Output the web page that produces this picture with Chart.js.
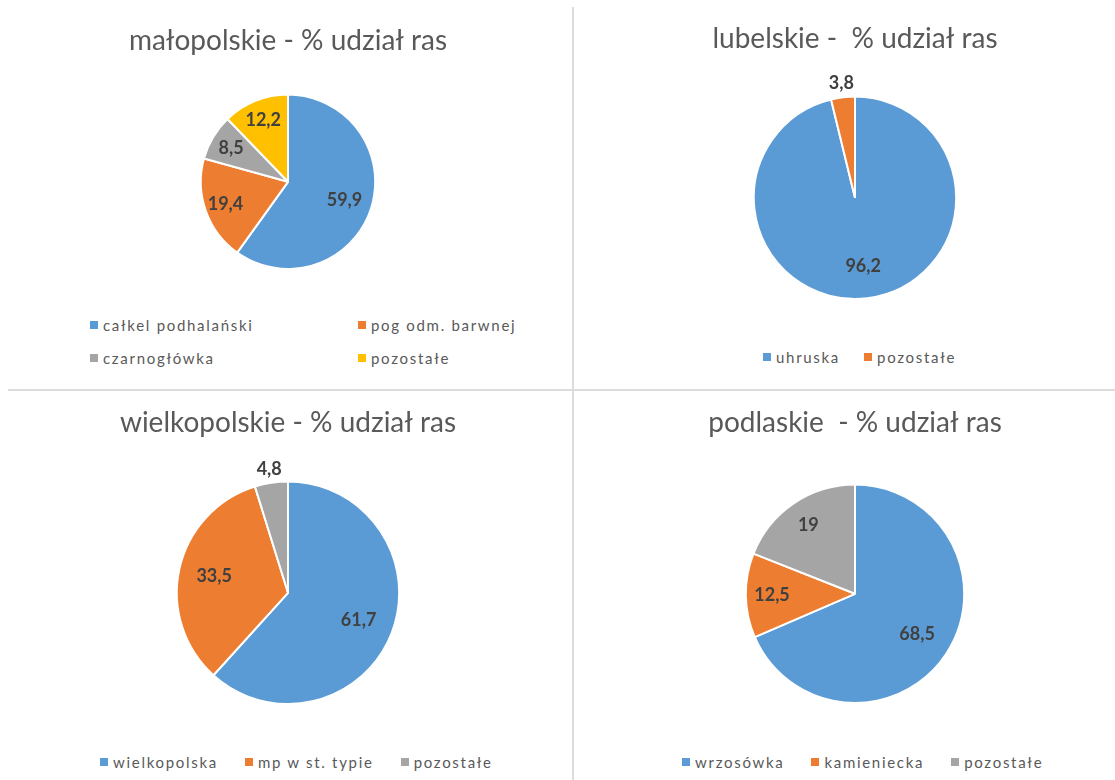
<!DOCTYPE html>
<html>
<head>
<meta charset="utf-8">
<script src="https://cdn.jsdelivr.net/npm/chart.js@4.4.0/dist/chart.umd.min.js"></script>
<style>
  body { margin: 0; background: #fff; width: 1115px; height: 780px; position: relative; overflow: hidden; font-family: Lato, sans-serif; }
  .box { position: absolute; }
  .sep { position: absolute; background: #dcdcdc; }
  .legend { position: absolute; margin: 0; padding: 0; list-style: none; font-size: 15px; letter-spacing: 1.7px; color: #595959; }
  .legend li { display: flex; align-items: center; white-space: nowrap; height: 16px; }
  .legend .sw { width: 8px; height: 8px; margin-right: 5px; flex: none; }
</style>
</head>
<body>
<div class="sep" style="left:572px;top:7px;width:2px;height:773px"></div>
<div class="sep" style="left:8px;top:389px;width:1107px;height:2px"></div>

<div class="box" style="left:2px;top:0;width:572px;height:270px"><canvas id="c1"></canvas></div>
<div class="box" style="left:584px;top:0;width:542px;height:300px"><canvas id="c2"></canvas></div>
<div class="box" style="left:4px;top:390px;width:568px;height:315px"><canvas id="c3"></canvas></div>
<div class="box" style="left:584px;top:390px;width:542px;height:314px"><canvas id="c4"></canvas></div>

<ul class="legend" id="lg1" style="left:90px;top:317px;display:grid;grid-template-columns:268px auto;row-gap:17px"></ul>
<ul class="legend" id="lg2" style="left:763px;top:349px;display:flex;column-gap:24px"></ul>
<ul class="legend" id="lg3" style="left:100px;top:754px;display:flex;column-gap:27px"></ul>
<ul class="legend" id="lg4" style="left:682px;top:754px;display:flex;column-gap:27px"></ul>

<script>
const COLORS = ["#5B9BD5", "#ED7D31", "#A5A5A5", "#FFC000"];

const MALOPOLSKIE_TITLE = "małopolskie - % udział ras";
const MALOPOLSKIE_LABELS = ["całkel podhalański", "pog odm. barwnej", "czarnogłówka", "pozostałe"];
const MALOPOLSKIE_VALUES = [59.9, 19.4, 8.5, 12.2];

const LUBELSKIE_TITLE = "lubelskie -  % udział ras";
const LUBELSKIE_LABELS = ["uhruska", "pozostałe"];
const LUBELSKIE_VALUES = [96.2, 3.8];

const WIELKOPOLSKIE_TITLE = "wielkopolskie - % udział ras";
const WIELKOPOLSKIE_LABELS = ["wielkopolska", "mp w st. typie", "pozostałe"];
const WIELKOPOLSKIE_VALUES = [61.7, 33.5, 4.8];

const PODLASKIE_TITLE = "podlaskie  - % udział ras";
const PODLASKIE_LABELS = ["wrzosówka", "kamieniecka", "pozostałe"];
const PODLASKIE_VALUES = [68.5, 12.5, 19];

// value labels on slices, small slices go outside
const sliceLabels = {
  id: "sliceLabels",
  afterDatasetsDraw(chart) {
    const ctx = chart.ctx;
    const ds = chart.data.datasets[0];
    const total = ds.data.reduce((a, b) => a + b, 0);
    ctx.save();
    ctx.font = "bold 18px Lato";
    ctx.fillStyle = "#404040";
    ctx.textAlign = "center";
    ctx.textBaseline = "middle";
    chart.getDatasetMeta(0).data.forEach((arc, i) => {
      const { x, y, startAngle, endAngle, outerRadius } = arc.getProps(["x", "y", "startAngle", "endAngle", "outerRadius"], true);
      const mid = (startAngle + endAngle) / 2;
      const share = ds.data[i] / total;
      const r = share < 0.06 ? outerRadius + 14 : outerRadius * (share < 0.25 ? 0.76 : 0.68);
      const txt = String(ds.data[i]).replace(".", ",");
      ctx.fillText(txt, x + Math.cos(mid) * r, y + Math.sin(mid) * r);
    });
    ctx.restore();
  }
};

// legend as html list, built from the chart's own legend items
const htmlLegend = {
  id: "htmlLegend",
  afterUpdate(chart, args, opts) {
    const ul = document.getElementById(opts.containerID);
    ul.innerHTML = "";
    chart.options.plugins.legend.labels.generateLabels(chart).forEach(item => {
      const li = document.createElement("li");
      const sw = document.createElement("span");
      sw.className = "sw";
      sw.style.background = item.fillStyle;
      li.appendChild(sw);
      li.appendChild(document.createTextNode(item.text));
      ul.appendChild(li);
    });
  }
};

function makePie(id, legendId, title, labels, values, titlePad) {
  return new Chart(document.getElementById(id), {
    type: "pie",
    data: {
      labels: labels,
      datasets: [{
        data: values,
        backgroundColor: COLORS.slice(0, values.length),
        borderColor: "#fff",
        borderWidth: 2
      }]
    },
    options: {
      responsive: true,
      maintainAspectRatio: false,
      animation: false,
      plugins: {
        title: { display: true, text: title, color: "#595959", font: { family: "Lato", size: 28, weight: "normal" }, padding: titlePad },
        legend: { display: false },
        tooltip: { enabled: false },
        htmlLegend: { containerID: legendId }
      }
    },
    plugins: [sliceLabels, htmlLegend]
  });
}

makePie("c1", "lg1", MALOPOLSKIE_TITLE, MALOPOLSKIE_LABELS, MALOPOLSKIE_VALUES, { top: 24, bottom: 36 });
makePie("c2", "lg2", LUBELSKIE_TITLE, LUBELSKIE_LABELS, LUBELSKIE_VALUES, { top: 22, bottom: 40 });
makePie("c3", "lg3", WIELKOPOLSKIE_TITLE, WIELKOPOLSKIE_LABELS, WIELKOPOLSKIE_VALUES, { top: 16, bottom: 41 });
makePie("c4", "lg4", PODLASKIE_TITLE, PODLASKIE_LABELS, PODLASKIE_VALUES, { top: 16, bottom: 44 });
</script>
</body>
</html>
